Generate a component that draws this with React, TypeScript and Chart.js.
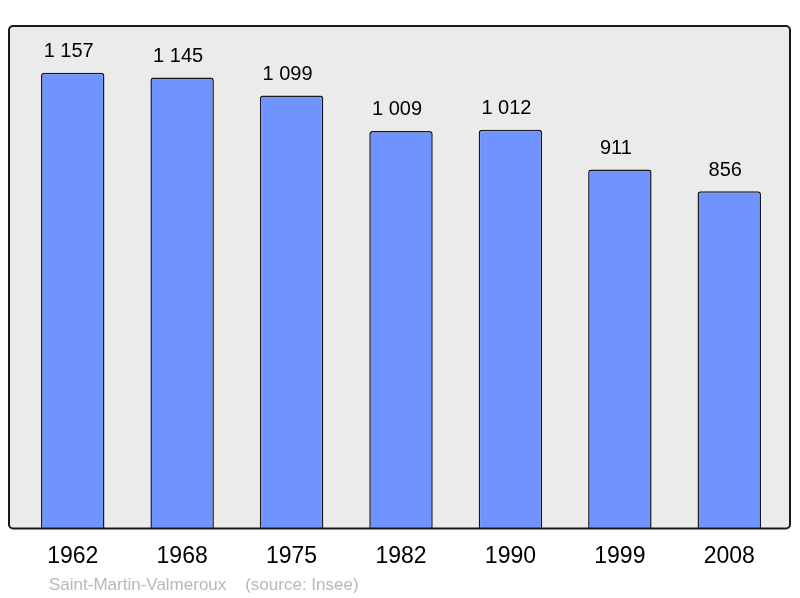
import React, { useEffect, useRef } from "react";
import { Chart, registerables } from "chart.js";

Chart.register(...registerables);

const years = ["1962", "1968", "1975", "1982", "1990", "1999", "2008"];
const population = [1157, 1145, 1099, 1009, 1012, 911, 856];
const valueLabels = ["1 157", "1 145", "1 099", "1 009", "1 012", "911", "856"];
const footerText = "Saint-Martin-Valmeroux    (source: Insee)";
const yMax = 1273;

const FONT = "'Liberation Sans', Arial, sans-serif";

const boxPlugin = {
  id: "boxPlugin",
  beforeDraw(chart: any) {
    const { ctx, chartArea } = chart;
    const l = chartArea.left - 9;
    const r = chartArea.right + 6;
    const t = chartArea.top - 1;
    const b = chartArea.bottom;
    ctx.save();
    ctx.beginPath();
    ctx.roundRect(l, t, r - l, b - t, 4);
    ctx.fillStyle = "#ebebeb";
    ctx.fill();
    ctx.restore();
  },
  afterDatasetsDraw(chart: any) {
    const { ctx, chartArea } = chart;
    const l = chartArea.left - 9;
    const r = chartArea.right + 6;
    const t = chartArea.top - 1;
    const b = chartArea.bottom;
    ctx.save();
    ctx.beginPath();
    ctx.roundRect(l, t, r - l, b - t, 4);
    ctx.lineWidth = 2;
    ctx.strokeStyle = "#1a1a1a";
    ctx.stroke();
    // value labels
    const meta = chart.getDatasetMeta(0);
    ctx.fillStyle = "#000";
    ctx.font = `20px ${FONT}`;
    ctx.textAlign = "center";
    ctx.textBaseline = "middle";
    meta.data.forEach((bar: any, i: number) => {
      ctx.fillText(valueLabels[i], bar.x - 4, bar.y - 21);
    });
    // footer
    ctx.fillStyle = "#b8b8b8";
    ctx.font = `17px ${FONT}`;
    ctx.textAlign = "left";
    ctx.fillText(footerText, 49, 585);
    ctx.restore();
  },
};

export default function App() {
  const ref = useRef<HTMLCanvasElement | null>(null);
  useEffect(() => {
    if (!ref.current) return;
    const chart = new Chart(ref.current, {
      type: "bar",
      data: {
        labels: years,
        datasets: [
          {
            data: population,
            backgroundColor: "#7094ff",
            borderColor: "#1a1a1a",
            borderWidth: 1.5,
            borderRadius: { topLeft: 3, topRight: 3, bottomLeft: 0, bottomRight: 0 },
            borderSkipped: "bottom",
            barPercentage: 0.58,
            categoryPercentage: 1,
          },
        ],
      },
      options: {
        animation: false,
        responsive: false,
        maintainAspectRatio: false,
        layout: { padding: { left: 18, right: 16, top: 27, bottom: 14 } },
        plugins: {
          legend: { display: false },
          tooltip: { enabled: false },
          title: { display: false },
        },
        scales: {
          x: {
            grid: { display: false, drawTicks: false, tickLength: 0 },
            border: { display: false },
            ticks: {
              color: "#000",
              font: { family: FONT, size: 23, lineHeight: 1.2 },
              padding: 14,
              maxRotation: 0,
            },
          },
          y: {
            display: false,
            min: 0,
            max: yMax,
          },
        },
      },
      plugins: [boxPlugin],
    });
    return () => chart.destroy();
  }, []);
  return (
    <div style={{ position: "fixed", left: 0, top: 0, width: 800, height: 598, background: "#fff" }}>
      <canvas ref={ref} width={800} height={598} style={{ display: "block", width: 800, height: 598 }} />
    </div>
  );
}
